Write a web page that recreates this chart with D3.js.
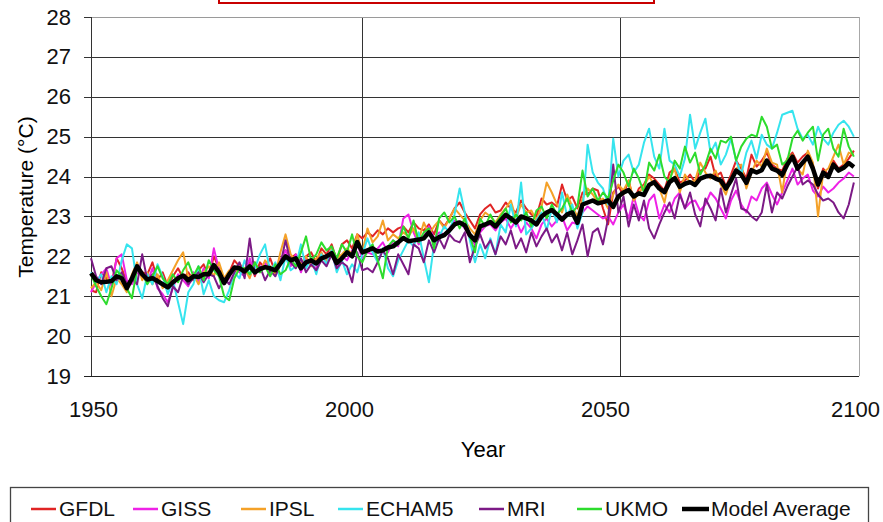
<!DOCTYPE html>
<meta charset="utf-8">
<style>
body { margin: 0; background: #fff; }
svg { font-family: Arial, "Liberation Sans", sans-serif; }
.grid line { stroke: #333; stroke-width: 1px; shape-rendering: crispEdges; }
.axis path { display: none; }
.axis line { stroke: #333; shape-rendering: crispEdges; }
.axis text { font-size: 22px; fill: #111; }
.series { fill: none; stroke-width: 2px; stroke-linejoin: round; }
.avg { fill: none; stroke: #000; stroke-width: 4.5px; stroke-linejoin: round; }
.legend text { font-size: 21px; fill: #111; }
</style>
<body>
<script src="https://cdn.jsdelivr.net/npm/d3@7"></script>
<script>

var startYear = 1950;
var yTicks = [19, 20, 21, 22, 23, 24, 25, 26, 27, 28];
var xTicks = [1950, 2000, 2050, 2100];
var vGridYears = [2002.9, 2053.3];

var models = ["GFDL", "GISS", "IPSL", "ECHAM5", "MRI", "UKMO", "Model Average"];
var colors = ["#e02424", "#ee22e6", "#f4a128", "#36e4ee", "#7c1a86", "#2ddc2d", "#000000"];

// annual values 1950-2099, one row per decade
var gfdl = [
  21.15,21.10,21.60,21.45,21.30,21.95,21.70,21.35,21.40,21.80,
  21.60,21.55,21.85,21.40,21.60,21.25,21.50,21.70,21.45,21.60,
  21.40,21.65,21.80,21.50,22.00,21.70,21.40,21.60,21.90,21.75,
  21.55,21.90,21.50,21.85,21.70,21.95,21.60,21.90,22.15,21.95,
  22.05,21.80,22.00,22.10,21.85,22.20,22.05,22.30,21.90,22.30,
  22.40,22.20,22.55,22.45,22.60,22.50,22.65,22.55,22.70,22.60,
  22.70,22.75,22.60,22.85,22.70,22.65,22.80,22.55,22.90,22.75,
  22.95,23.20,23.35,23.10,22.90,22.70,23.05,23.20,23.30,23.10,
  23.15,23.35,23.20,23.10,23.40,23.20,23.05,23.00,23.45,23.30,
  23.35,23.25,23.80,23.40,23.50,23.20,23.60,23.55,23.70,23.65,
  23.20,22.80,23.60,23.75,23.55,23.90,23.40,23.70,23.80,24.05,
  23.95,23.80,23.65,24.10,24.20,23.85,23.90,24.05,23.85,24.15,
  24.20,24.50,24.00,24.10,23.75,24.05,24.40,24.20,23.95,24.55,
  24.25,24.40,24.60,24.30,24.20,24.15,24.45,24.60,24.35,24.50,
  24.60,24.30,23.70,24.20,24.05,24.40,24.20,24.30,24.45,24.65
];
var giss = [
  21.10,21.35,21.55,21.70,21.25,21.95,22.05,21.40,21.30,21.60,
  21.50,21.35,21.70,21.20,21.05,20.85,21.20,21.55,21.40,21.25,
  21.60,21.35,21.70,21.45,22.20,21.65,21.30,21.45,21.75,21.60,
  21.50,21.95,21.55,21.70,21.85,21.55,21.75,21.90,22.15,21.75,
  22.05,21.60,21.95,21.80,21.70,22.05,21.90,22.20,21.75,22.00,
  21.90,22.15,22.30,21.95,22.10,22.05,22.20,22.35,22.10,22.40,
  22.25,22.95,23.05,22.60,22.30,22.50,22.75,22.45,22.60,22.55,
  22.70,22.90,22.85,22.70,22.45,22.30,22.60,22.75,22.80,22.65,
  22.85,22.95,22.70,22.90,22.60,22.85,22.70,22.45,22.80,22.95,
  22.75,22.90,23.00,22.65,22.85,22.80,23.10,23.25,23.15,23.05,
  22.95,23.00,22.80,23.10,23.30,22.95,23.50,23.05,22.90,23.40,
  23.55,22.95,23.30,23.10,23.45,23.60,23.20,23.35,23.40,23.15,
  23.30,23.60,23.45,23.20,22.95,23.40,23.65,23.30,23.10,23.50,
  23.40,23.70,23.85,23.55,23.30,23.60,23.90,24.20,23.80,23.95,
  24.05,23.65,23.50,23.75,23.60,23.70,23.85,23.95,24.10,24.00
];
var ipsl = [
  21.20,21.35,21.15,21.60,21.00,21.45,21.30,21.10,21.55,21.85,
  21.40,21.60,21.30,21.55,21.20,21.40,21.65,21.90,22.10,21.45,
  21.55,21.30,21.60,21.75,21.50,21.85,21.45,21.65,21.55,21.80,
  21.70,21.45,21.85,21.60,21.90,21.75,21.55,22.10,22.55,22.05,
  21.90,21.80,22.00,21.75,21.95,22.10,21.85,22.20,21.95,22.05,
  22.20,22.05,22.55,22.10,22.70,22.35,22.50,22.90,22.40,22.55,
  22.45,22.60,22.50,22.70,22.40,22.85,22.55,22.75,22.90,22.70,
  22.95,23.20,23.05,22.90,22.70,22.55,22.90,23.10,23.00,22.85,
  23.05,23.20,23.40,22.95,23.30,23.10,23.15,22.90,23.25,23.85,
  23.60,23.30,23.10,23.55,23.25,23.00,23.45,23.70,23.55,23.35,
  23.45,23.20,23.55,23.80,23.65,23.90,23.40,23.60,23.75,24.00,
  23.80,23.70,23.35,23.95,24.20,23.60,24.05,23.85,23.90,24.35,
  24.10,23.95,24.15,23.80,23.55,23.95,24.20,24.30,23.70,24.10,
  24.40,24.25,24.70,24.35,24.30,23.60,24.45,24.55,24.20,24.05,
  24.65,24.35,23.00,24.10,24.20,24.50,24.80,24.30,24.60,24.55
];
var echam5 = [
  21.60,21.35,21.55,21.10,21.50,21.30,21.90,22.30,22.20,21.30,
  20.95,21.55,21.30,21.80,21.50,21.05,21.40,20.85,20.30,21.10,
  21.30,21.75,21.05,21.40,21.00,20.90,20.85,21.15,21.60,21.45,
  21.90,21.55,21.70,22.05,22.30,21.60,21.85,21.40,22.00,21.65,
  21.75,22.30,21.70,21.95,21.55,22.05,21.80,22.15,21.60,21.90,
  21.55,21.80,21.60,22.05,22.45,22.10,21.85,22.20,21.70,21.50,
  21.90,22.15,22.40,22.25,22.60,21.95,21.35,22.30,22.50,22.75,
  22.60,23.05,23.70,23.10,22.40,21.85,22.30,21.95,22.45,22.05,
  22.80,22.60,23.30,22.75,23.85,22.55,22.70,22.90,23.10,22.65,
  23.20,22.85,23.60,23.00,23.30,22.70,23.10,24.80,24.10,23.85,
  23.70,23.30,24.95,24.00,24.40,24.55,24.10,24.30,24.85,25.20,
  24.50,24.20,25.20,24.40,24.30,24.00,24.45,25.55,24.70,25.10,
  25.45,24.60,24.85,24.30,24.55,24.95,24.40,24.05,24.60,24.90,
  24.45,25.05,24.80,24.70,25.10,25.55,25.60,25.65,25.20,24.95,
  25.05,24.80,25.25,24.95,24.80,25.10,25.30,25.40,25.25,25.00
];
var mri = [
  21.95,21.50,21.30,21.70,21.75,21.40,21.60,21.30,21.45,21.30,
  22.05,21.40,21.55,21.25,20.95,20.75,21.25,21.10,21.50,21.30,
  21.45,21.60,21.35,21.55,21.50,21.20,21.45,21.30,21.60,21.85,
  21.45,22.45,21.55,21.75,21.40,21.65,21.50,21.80,22.40,21.85,
  21.70,21.95,21.60,21.80,21.65,21.90,21.75,22.05,21.70,21.85,
  21.75,21.35,22.10,21.65,21.70,21.60,21.85,22.15,21.95,21.55,
  22.05,21.80,21.55,22.30,22.20,21.85,22.40,22.10,22.45,22.20,
  22.55,22.40,22.35,22.60,21.85,22.25,22.55,22.20,22.40,22.05,
  22.50,22.30,22.65,22.20,22.45,22.10,22.60,22.25,22.50,22.70,
  22.35,22.55,22.15,22.60,22.05,22.40,22.80,22.00,22.60,22.70,
  22.30,22.95,24.30,23.10,23.50,22.75,23.30,22.90,23.40,22.70,
  22.45,22.80,23.10,23.35,22.95,23.55,23.20,23.60,23.05,22.75,
  23.45,23.20,22.90,23.70,23.10,23.55,23.95,23.20,23.15,23.00,
  22.90,23.10,23.80,23.10,23.60,23.45,23.75,24.00,24.25,23.80,
  23.90,23.80,23.55,23.40,23.45,23.35,23.10,22.95,23.30,23.85
];
var ukmo = [
  21.55,21.25,21.00,20.80,21.20,21.65,21.50,21.20,20.95,21.70,
  21.60,21.30,21.50,21.75,21.45,21.30,21.55,21.35,21.65,21.85,
  21.50,21.75,21.40,21.90,21.65,21.50,21.00,20.90,21.45,21.70,
  21.70,21.55,21.85,21.60,21.75,21.50,21.80,21.55,21.65,21.95,
  21.75,22.10,22.50,21.90,22.05,22.35,22.15,22.25,21.95,22.30,
  22.10,22.55,22.00,21.85,22.15,22.30,21.90,21.45,22.25,22.40,
  22.30,22.75,22.45,22.90,22.35,22.60,22.70,22.20,22.95,23.10,
  22.85,23.00,22.70,22.95,22.50,22.10,22.95,22.75,23.05,22.80,
  23.00,23.20,22.85,23.05,22.90,23.10,22.75,23.15,23.25,22.95,
  23.30,23.05,23.20,23.45,23.10,23.25,24.15,23.50,23.70,23.40,
  23.60,23.45,23.90,24.30,24.10,23.75,24.20,23.95,23.60,24.35,
  24.15,24.55,24.00,23.85,24.40,24.20,24.75,24.35,24.60,24.05,
  24.30,24.70,24.45,24.90,24.85,25.00,24.40,24.75,24.95,25.05,
  25.00,25.50,25.25,24.70,24.80,24.30,24.40,24.95,25.15,24.90,
  25.10,25.25,24.40,25.05,25.20,24.70,24.50,25.20,24.75,24.50
];
var modelAverage = [
  21.58,21.40,21.35,21.36,21.38,21.50,21.45,21.20,21.45,21.75,
  21.55,21.42,21.45,21.38,21.30,21.22,21.35,21.45,21.52,21.40,
  21.50,21.48,21.55,21.55,21.78,21.60,21.33,21.55,21.72,21.70,
  21.62,21.75,21.60,21.68,21.73,21.70,21.65,21.82,22.00,21.90,
  21.95,21.70,21.85,21.90,21.82,21.95,22.00,22.08,21.83,21.95,
  22.10,22.00,22.36,22.10,22.15,22.20,22.12,22.15,22.22,22.25,
  22.35,22.46,22.38,22.40,22.42,22.45,22.60,22.40,22.48,22.53,
  22.65,22.80,22.85,22.78,22.53,22.40,22.75,22.80,22.86,22.75,
  22.90,23.04,22.95,22.85,23.00,22.95,22.90,22.80,23.00,23.10,
  23.16,23.05,22.92,23.05,23.10,22.84,23.30,23.35,23.40,23.33,
  23.36,23.40,23.24,23.50,23.60,23.66,23.50,23.58,23.54,23.79,
  23.86,23.70,23.61,23.86,23.96,23.74,23.82,23.86,23.79,23.95,
  24.00,24.02,23.95,23.90,23.70,23.90,24.15,24.05,23.84,24.16,
  24.10,24.16,24.40,24.20,24.15,24.04,24.30,24.50,24.20,24.35,
  24.50,24.20,23.80,24.10,23.99,24.30,24.15,24.22,24.34,24.24
];

var seriesValues = [gfdl, giss, ipsl, echam5, mri, ukmo, modelAverage];

var W = 883, H = 522;
var plot = {left: 91, right: 859, top: 17, bottom: 376};

var svg = d3.select("body").append("svg")
    .attr("width", W)
    .attr("height", H);

var x = d3.scaleLinear().domain([1950, 2100]).range([plot.left, plot.right]);
var y = d3.scaleLinear().domain([19, 28]).range([plot.bottom, plot.top]);

// red title box cut off at the top
svg.append("rect")
    .attr("x", 219).attr("y", -10)
    .attr("width", 435).attr("height", 13)
    .attr("fill", "#fff")
    .attr("stroke", "#c80000")
    .attr("stroke-width", 2);

// horizontal grid
svg.append("g").attr("class", "grid")
  .selectAll("line")
    .data(yTicks.slice(1, -1))
  .enter().append("line")
    .attr("x1", plot.left).attr("x2", plot.right)
    .attr("y1", function(d) { return Math.round(y(d)) + 0.5; })
    .attr("y2", function(d) { return Math.round(y(d)) + 0.5; });

// vertical grid
svg.append("g").attr("class", "grid")
  .selectAll("line")
    .data(vGridYears)
  .enter().append("line")
    .attr("y1", plot.top).attr("y2", plot.bottom)
    .attr("x1", function(d) { return Math.round(x(d)) + 0.5; })
    .attr("x2", function(d) { return Math.round(x(d)) + 0.5; });

// plot frame
svg.append("line").attr("x1", plot.left).attr("x2", plot.right)
    .attr("y1", plot.top + 0.5).attr("y2", plot.top + 0.5)
    .attr("stroke", "#9a9a9a");
svg.append("line").attr("x1", plot.right + 0.5).attr("x2", plot.right + 0.5)
    .attr("y1", plot.top).attr("y2", plot.bottom)
    .attr("stroke", "#a8a8a8");

var yAxis = d3.axisLeft(y).tickValues(yTicks).tickSize(7).tickPadding(13);
svg.append("g")
    .attr("class", "axis")
    .attr("transform", "translate(" + plot.left + ",0)")
    .call(yAxis);
svg.append("line").attr("x1", plot.left + 0.5).attr("x2", plot.left + 0.5)
    .attr("y1", plot.top).attr("y2", plot.bottom)
    .attr("stroke", "#333");
svg.append("line").attr("x1", plot.left - 7).attr("x2", plot.right)
    .attr("y1", plot.bottom + 0.5).attr("y2", plot.bottom + 0.5)
    .attr("stroke", "#222");

var xAxis = d3.axisBottom(x).tickValues(xTicks).tickSize(0).tickPadding(25)
    .tickFormat(d3.format("d"));
svg.append("g")
    .attr("class", "axis")
    .attr("transform", "translate(0," + plot.bottom + ")")
    .call(xAxis)
  .selectAll("text")
    .attr("x", function(d) { return d === 2100 ? -4 : 2; });

svg.append("text")
    .attr("x", 483).attr("y", 457)
    .attr("text-anchor", "middle")
    .style("font-size", "22px")
    .text("Year");

svg.append("text")
    .attr("transform", "translate(33,197) rotate(-90)")
    .attr("text-anchor", "middle")
    .style("font-size", "21px")
    .text("Temperature (\u00B0C)");

var line = d3.line()
    .x(function(d, i) { return x(startYear + i); })
    .y(function(d) { return y(d); });

seriesValues.forEach(function(vals, k) {
  svg.append("path")
      .datum(vals)
      .attr("class", k === 6 ? "avg" : "series")
      .attr("stroke", colors[k])
      .attr("d", line);
});

// legend
var legendX = [31, 133, 241, 338, 479, 577, 682];
var legend = svg.append("g").attr("class", "legend");
legend.append("rect")
    .attr("x", 10.5).attr("y", 487.5)
    .attr("width", 858).attr("height", 50)
    .attr("fill", "#fff")
    .attr("stroke", "#444")
    .attr("stroke-width", 1.3);

var item = legend.selectAll(".item")
    .data(models)
  .enter().append("g")
    .attr("class", "item")
    .attr("transform", function(d, i) { return "translate(" + legendX[i] + ",0)"; });

item.append("line")
    .attr("x1", 0).attr("x2", function(d, i) { return i === 6 ? 27 : 25; })
    .attr("y1", 509).attr("y2", 509)
    .attr("stroke", function(d, i) { return colors[i]; })
    .attr("stroke-width", function(d, i) { return i === 6 ? 4.5 : 2.5; });

item.append("text")
    .attr("x", function(d, i) { return i === 6 ? 29 : 28; })
    .attr("y", 516)
    .text(function(d) { return d; });

</script>
